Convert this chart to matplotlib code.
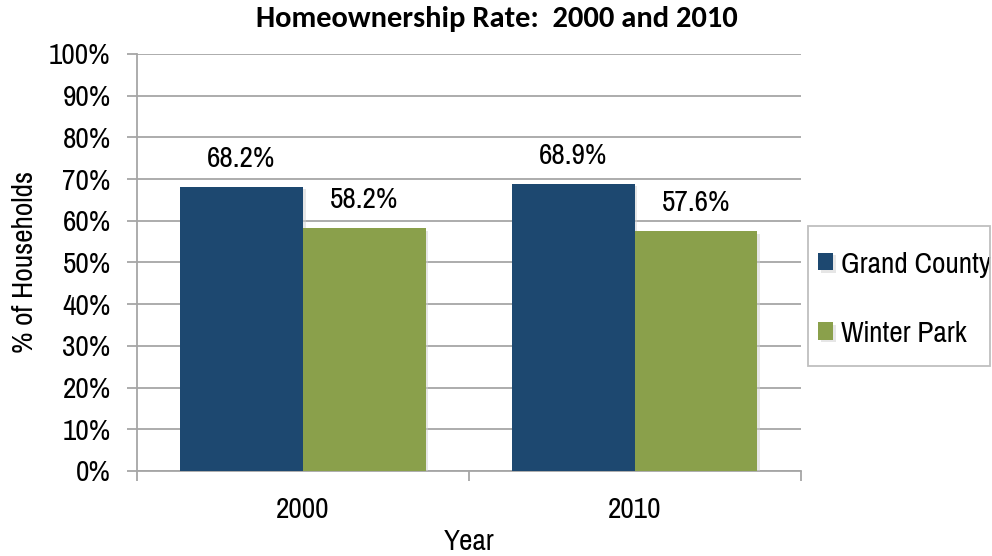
import matplotlib
matplotlib.use('Agg')
import matplotlib.pyplot as plt
import matplotlib.patheffects as pe
from matplotlib.patches import Rectangle
import numpy as np

# Homeownership rate by year
years = ['2000', '2010']
grand_county = [68.2, 68.9]
winter_park = [58.2, 57.6]

plt.rcParams['font.family'] = ['Pragati Narrow', 'Liberation Sans', 'DejaVu Sans']

blue = '#1d4870'
green = '#8aa04b'
grid_gray = '#a6a6a6'
fs = 23

W, H = 992, 556
fig = plt.figure(figsize=(W / 100, H / 100), dpi=100)
ax = fig.add_axes([0.138, 0.153, 0.669, 0.750])

x = np.arange(len(years))
w = 0.37
shadow = [pe.SimplePatchShadow(offset=(2, -2), shadow_rgbFace='#cfcfcf', alpha=0.5), pe.Normal()]

b1 = ax.bar(x - w / 2, grand_county, w, color=blue, label='Grand County', zorder=3)
b2 = ax.bar(x + w / 2, winter_park, w, color=green, label='Winter Park', zorder=3)
for b in list(b1) + list(b2):
    b.set_path_effects(shadow)

# value labels above each bar
for xs, vals in ((x - w / 2, grand_county), (x + w / 2, winter_park)):
    for xi, v in zip(xs, vals):
        ax.text(xi, v + 6.7, f'{v:.1f}%', ha='center', va='center', fontsize=fs, zorder=4)

ax.set_xlim(-0.5, len(years) - 0.5)
ax.set_ylim(0, 100)
ax.set_yticks(np.arange(0, 101, 10))
ax.set_yticklabels([f'{t}%' for t in range(0, 101, 10)], fontsize=fs)
ax.yaxis.grid(True, color=grid_gray, linewidth=1.3, zorder=0)
ax.set_axisbelow(True)

# category labels centred, tick marks between the groups
ax.set_xticks(x)
ax.set_xticklabels(years, fontsize=fs)
ax.set_xticks(np.arange(-0.5, len(years), 1.0), minor=True)
ax.tick_params(axis='x', which='major', length=0, pad=19)
ax.tick_params(axis='x', which='minor', length=7, color=grid_gray, width=1.3, direction='out')
ax.tick_params(axis='y', length=7, color=grid_gray, width=1.3, direction='out', pad=12)

for s in ('top', 'right'):
    ax.spines[s].set_visible(False)
for s in ('left', 'bottom'):
    ax.spines[s].set_color(grid_gray)
    ax.spines[s].set_linewidth(1.3)

ax.set_xlabel('Year', fontsize=fs, labelpad=4)
ax.set_ylabel('% of Households', fontsize=fs, labelpad=8)

fig.text(0.501, 0.965, 'Homeownership Rate:  2000 and 2010', ha='center', va='center',
         fontsize=22, fontweight='bold', family=['Carlito', 'DejaVu Sans'])

# legend with a separately drawn frame
leg = ax.legend(loc='center left', bbox_to_anchor=(818 / W, 1 - 299.5 / H),
                bbox_transform=fig.transFigure, fontsize=fs, frameon=False,
                borderpad=0, borderaxespad=0, handlelength=0.47, handleheight=0.47,
                handletextpad=0.25, labelspacing=1.36)
fig.add_artist(Rectangle((808 / W, 1 - 366 / H), 182 / W, 140 / H, transform=fig.transFigure,
                         fill=False, edgecolor='#bfbfbf', linewidth=1.3))

fig.savefig('out.png', dpi=100)
